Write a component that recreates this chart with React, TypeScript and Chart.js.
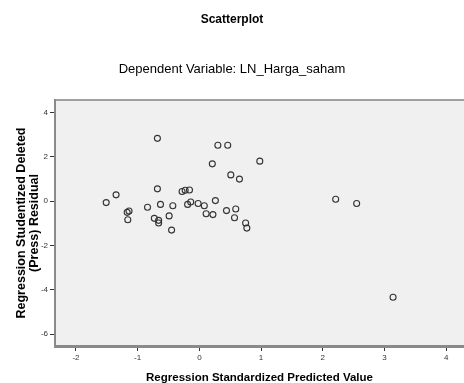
import React, { useEffect, useRef } from "react";
import { Chart, registerables } from "chart.js";

Chart.register(...registerables);

const predictedValues = [
  -1.51, -1.35, -1.17, -1.14, -1.16, -0.84, -0.68, -0.68, -0.63, -0.73,
  -0.66, -0.66, -0.49, -0.43, -0.45, -0.28, -0.23, -0.16, -0.19, -0.14,
  -0.02, 0.08, 0.11, 0.22, 0.26, 0.21, 0.3, 0.46, 0.51, 0.65,
  0.44, 0.59, 0.57, 0.98, 0.75, 0.77, 2.21, 2.55, 3.14,
];
const residuals = [
  -0.06, 0.29, -0.5, -0.44, -0.83, -0.27, 2.84, 0.56, -0.14, -0.77,
  -0.86, -0.98, -0.66, -0.2, -1.3, 0.44, 0.5, 0.51, -0.14, -0.03,
  -0.1, -0.2, -0.56, -0.6, 0.03, 1.69, 2.53, 2.53, 1.19, 1.0,
  -0.42, -0.35, -0.74, 1.81, -0.98, -1.21, 0.09, -0.1, -4.33,
];
const xTicks = [-2, -1, 0, 1, 2, 3, 4];
const yTicks = [-6, -4, -2, 0, 2, 4];

const FONT = "Arial, 'Liberation Sans', sans-serif";

export default function App() {
  const canvasRef = useRef<HTMLCanvasElement | null>(null);

  useEffect(() => {
    if (!canvasRef.current) return;
    const bgPlugin = {
      id: "plotBg",
      beforeDraw(chart: any) {
        const { ctx, chartArea } = chart;
        ctx.save();
        ctx.fillStyle = "#F0F0F0";
        ctx.fillRect(chartArea.left, chartArea.top, chartArea.right - chartArea.left, chartArea.bottom - chartArea.top);
        ctx.strokeStyle = "#A0A0A0";
        ctx.lineWidth = 2;
        ctx.beginPath();
        ctx.moveTo(chartArea.left, chartArea.top);
        ctx.lineTo(chartArea.right, chartArea.top);
        ctx.stroke();
        ctx.restore();
      },
    };
    const chart = new Chart(canvasRef.current, {
      type: "scatter",
      data: {
        datasets: [
          {
            data: predictedValues.map((x, i) => ({ x, y: residuals[i] })),
            pointStyle: "circle",
            pointRadius: 3,
            pointBorderWidth: 1.1,
            pointBorderColor: "#333333",
            pointBackgroundColor: "rgba(0,0,0,0)",
          },
        ],
      },
      options: {
        animation: false,
        responsive: true,
        maintainAspectRatio: false,
        layout: { autoPadding: false, padding: { left: 0, right: 0, top: 0, bottom: 0 } },
        plugins: {
          legend: { display: false },
          tooltip: { enabled: false },
          title: {
            display: true,
            text: "Scatterplot",
            color: "#000",
            font: { family: FONT, size: 12, weight: "bold" },
            padding: { top: 12, bottom: 35 },
          },
          subtitle: {
            display: true,
            text: "Dependent Variable: LN_Harga_saham",
            color: "#000",
            font: { family: FONT, size: 13, weight: "normal" },
            padding: { top: 0, bottom: 23 },
          },
        },
        scales: {
          x: {
            type: "linear",
            min: -2.34,
            max: 4.29,
            afterBuildTicks: (s: any) => {
              s.ticks = xTicks.map((v) => ({ value: v }));
            },
            afterFit: (s: any) => {
              s.height = 37;
            },
            ticks: {
              color: "#333",
              font: { family: FONT, size: 8 },
              padding: 2,
              maxRotation: 0,
              autoSkip: false,
            },
            grid: {
              drawOnChartArea: false,
              drawTicks: true,
              tickLength: 5,
              color: "#333",
            },
            border: { display: true, color: "#8a8a8a", width: 3 },
            title: {
              display: true,
              text: "Regression Standardized Predicted Value",
              color: "#000",
              font: { family: FONT, size: 11.5, weight: "bold" },
              padding: { top: 0, bottom: -2 },
            },
          },
          y: {
            type: "linear",
            min: -6.53,
            max: 4.57,
            afterBuildTicks: (s: any) => {
              s.ticks = yTicks.map((v) => ({ value: v }));
            },
            afterFit: (s: any) => {
              s.width = 55;
            },
            ticks: {
              color: "#333",
              font: { family: FONT, size: 8 },
              padding: 2,
              autoSkip: false,
            },
            grid: {
              drawOnChartArea: false,
              drawTicks: true,
              tickLength: 5,
              color: "#333",
            },
            border: { display: true, color: "#8a8a8a", width: 2 },
            title: {
              display: true,
              text: ["Regression Studentized Deleted", "(Press) Residual"],
              color: "#000",
              font: { family: FONT, size: 12.5, weight: "bold", lineHeight: 1.05 },
              padding: { top: 15, bottom: 0 },
            },
          },
        },
      },
      plugins: [bgPlugin],
    } as any);
    return () => chart.destroy();
  }, []);

  return (
    <div style={{ position: "fixed", left: 0, top: 0, width: 464, height: 383, background: "#fff" }}>
      <canvas ref={canvasRef} />
    </div>
  );
}
